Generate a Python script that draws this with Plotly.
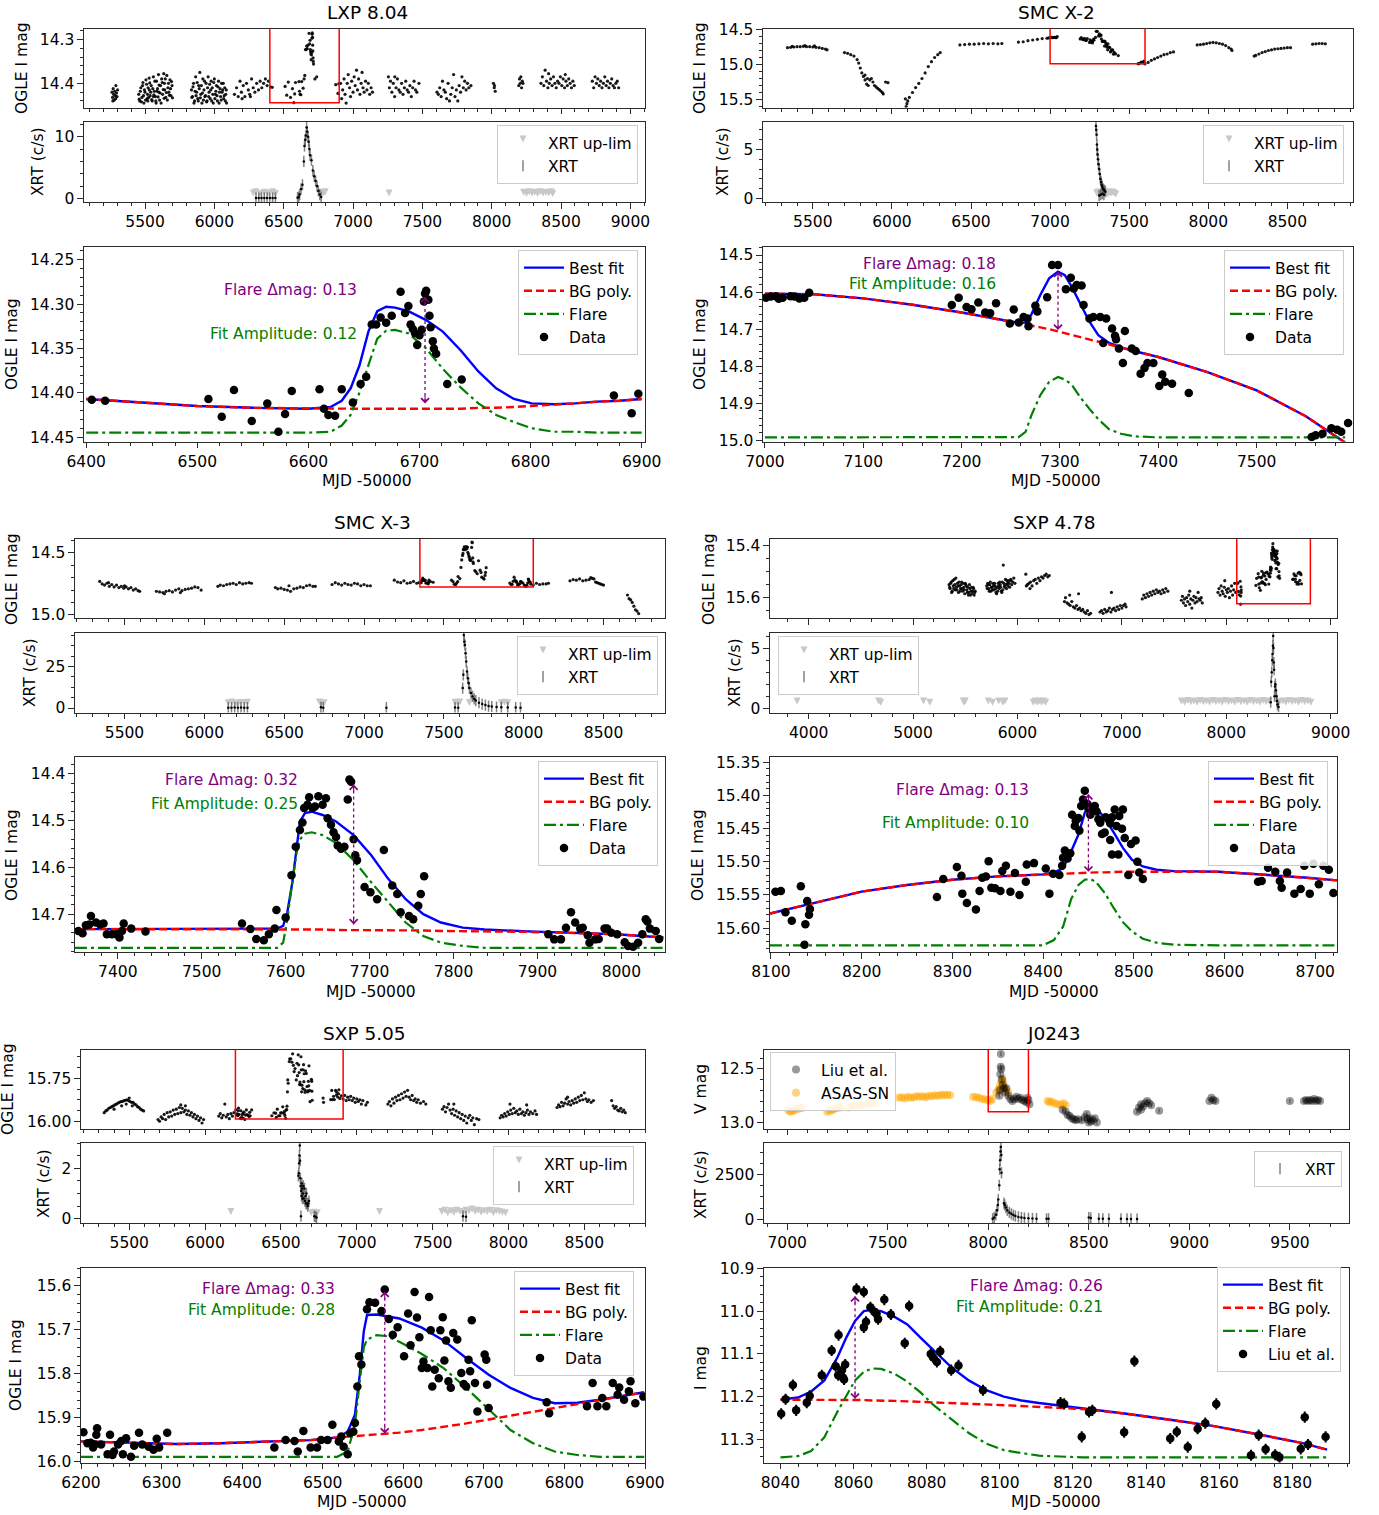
import plotly.graph_objects as go

# ============================ DATA ============================
# ---------- LXP 8.04 ----------
lxp_ogle_x = [
    5262, 5266, 5268, 5270, 5274, 5278, 5282, 5286, 5288, 5290, 5294, 5298, 5302,
    5455, 5462, 5470, 5478, 5485, 5492, 5500, 5507, 5515, 5520, 5522, 5530, 5531, 5537, 5545, 5552, 5560, 5561, 5567, 5575,
    5580, 5582, 5590, 5597, 5600, 5605, 5612, 5620, 5627, 5635, 5640, 5642, 5650, 5657, 5665, 5672, 5680, 5687, 5695,
    5835, 5842, 5850, 5857, 5865, 5872, 5880, 5887, 5895, 5902, 5910, 5917, 5925, 5932, 5940, 5947, 5955, 5962, 5970, 5977,
    5985, 5992, 6000, 6007, 6015, 6022, 6030, 6037, 6045, 6052, 6060, 6067, 6075, 6082, 6088,
    6145, 6160, 6172, 6185, 6195, 6200, 6208, 6220, 6232, 6245, 6255, 6260, 6268, 6280, 6292, 6305, 6318, 6330, 6342, 6355, 6368, 6380, 6390,
    6910, 6918, 6925, 6935, 6942, 6950, 6958, 6965, 6975, 6982, 6990, 7000, 7008, 7015, 7025, 7032, 7040, 7050, 7058, 7065, 7072, 7080, 7090, 7100, 7110, 7120, 7130, 7140,
    7255, 7262, 7270, 7280, 7290, 7300, 7301, 7310, 7320, 7330, 7340, 7350, 7360, 7370, 7380, 7390, 7400, 7410, 7420, 7430, 7440, 7450, 7460, 7475,
    7605, 7615, 7625, 7635, 7645, 7655, 7665, 7675, 7685, 7695, 7705, 7715, 7725, 7735, 7745, 7755, 7765, 7775, 7785, 7795, 7805, 7815, 7825, 7835, 7850,
    8012, 8018, 8020, 8025,
    8195, 8200, 8205, 8210, 8215, 8220, 8225,
    8355, 8365, 8375, 8385, 8395, 8405, 8410, 8415, 8425, 8435, 8445, 8455, 8465, 8475, 8485, 8495, 8505, 8515, 8525, 8530, 8535, 8545, 8555, 8565, 8575, 8585, 8595,
    8725, 8735, 8745, 8755, 8765, 8775, 8785, 8795, 8805, 8815, 8825, 8835, 8845, 8855, 8865, 8875, 8885, 8895, 8905, 8915,
    5458, 5466, 5474, 5482, 5489, 5496, 5504, 5511, 5518, 5526, 5534, 5541, 5548, 5556, 5564, 5571, 5578, 5586, 5594, 5601,
    5609, 5616, 5624, 5631, 5638, 5646, 5654, 5661, 5669, 5676, 5684, 5691, 5698,
    5838, 5846, 5853, 5861, 5868, 5876, 5884, 5891, 5899, 5906, 5914, 5921, 5929, 5936, 5944, 5951, 5959, 5966, 5974, 5981,
    5989, 5996, 6004, 6011, 6019, 6026, 6034, 6041, 6049, 6056, 6064, 6071, 6079, 6086,
]
lxp_ogle_y = [
    14.420, 14.432, 14.440, 14.412, 14.425, 14.438, 14.418, 14.428, 14.435, 14.405, 14.422, 14.430, 14.415,
    14.425, 14.440, 14.410, 14.432, 14.398, 14.445, 14.420, 14.392, 14.435, 14.440, 14.410, 14.388, 14.415, 14.428, 14.405, 14.440, 14.385, 14.430, 14.418, 14.430,
    14.445, 14.395, 14.412, 14.380, 14.420, 14.438, 14.405, 14.390, 14.425, 14.378, 14.400, 14.415, 14.432, 14.382, 14.410, 14.420, 14.392, 14.428, 14.405,
    14.415, 14.430, 14.400, 14.440, 14.385, 14.420, 14.435, 14.405, 14.375, 14.425, 14.445, 14.390, 14.415, 14.430, 14.400, 14.440, 14.385, 14.420, 14.435, 14.395,
    14.410, 14.445, 14.390, 14.425, 14.405, 14.440, 14.395, 14.420, 14.430, 14.400, 14.415, 14.435, 14.410, 14.425, 14.445,
    14.425, 14.410, 14.430, 14.395, 14.420, 14.435, 14.405, 14.430, 14.400, 14.415, 14.425, 14.430, 14.390, 14.410, 14.420, 14.400, 14.415, 14.395, 14.410, 14.400, 14.390, 14.405, 14.395,
    14.400, 14.435, 14.415, 14.390, 14.425, 14.445, 14.400, 14.380, 14.410, 14.430, 14.395, 14.420, 14.385, 14.405, 14.370, 14.415, 14.390, 14.425, 14.400, 14.375, 14.410, 14.420, 14.395, 14.415, 14.400, 14.425, 14.410, 14.420,
    14.385, 14.410, 14.395, 14.420, 14.400, 14.430, 14.385, 14.410, 14.390, 14.415, 14.420, 14.400, 14.425, 14.410, 14.395, 14.415, 14.420, 14.405, 14.430, 14.410, 14.395, 14.415, 14.420, 14.400,
    14.420, 14.425, 14.410, 14.430, 14.395, 14.415, 14.420, 14.435, 14.400, 14.440, 14.425, 14.410, 14.380, 14.430, 14.415, 14.440, 14.405, 14.420, 14.385, 14.410, 14.395, 14.415, 14.400, 14.410, 14.405,
    14.400, 14.410, 14.405, 14.418,
    14.405, 14.390, 14.400, 14.385, 14.410, 14.395, 14.400,
    14.400, 14.385, 14.405, 14.370, 14.395, 14.410, 14.378, 14.400, 14.390, 14.405, 14.385, 14.400, 14.410, 14.395, 14.400, 14.385, 14.405, 14.390, 14.410, 14.380, 14.395, 14.405, 14.390, 14.400, 14.410, 14.395, 14.405,
    14.395, 14.410, 14.385, 14.400, 14.390, 14.405, 14.395, 14.410, 14.400, 14.385, 14.405, 14.395, 14.410, 14.400, 14.390, 14.405, 14.410, 14.400, 14.395, 14.410,
    14.436, 14.418, 14.442, 14.405, 14.428, 14.415, 14.438, 14.402, 14.425, 14.432, 14.399, 14.420, 14.437, 14.412, 14.426, 14.395, 14.440, 14.418, 14.431, 14.404,
    14.422, 14.445, 14.398, 14.414, 14.434, 14.390, 14.421, 14.438, 14.400, 14.427, 14.412, 14.396, 14.433,
    14.432, 14.408, 14.445, 14.418, 14.428, 14.398, 14.440, 14.412, 14.433, 14.405, 14.422, 14.438, 14.395, 14.428, 14.442, 14.410, 14.430, 14.402, 14.415, 14.440,
    14.425, 14.398, 14.435, 14.418, 14.428, 14.408, 14.445, 14.412, 14.438, 14.420, 14.400, 14.428, 14.440, 14.415,
]
lxp_xrt_x = [6300, 6320, 6340, 6360, 6380, 6400, 6420, 6440, 6600, 6608, 6615, 6625, 6635, 6645, 6650, 6655, 6660, 6665,
             6670, 6675, 6680, 6685, 6690, 6700, 6710, 6720, 6730, 6740, 6750, 6760, 6770]
lxp_xrt_y = [0.05, 0.05, 0.04, 0.05, 0.06, 0.05, 0.04, 0.05, 0.1, 0.2, 0.6, 1.5, 2.2, 6.0, 8.5, 9.5, 10.2, 11.5,
             10.8, 10.0, 9.2, 8.0, 7.0, 6.2, 4.5, 3.6, 2.8, 2.0, 1.2, 0.6, 0.2]
lxp_ul_x = [6280, 6300, 6330, 6360, 6390, 6420, 6440, 6780, 6790, 6800, 7260, 8230, 8250, 8270, 8290, 8310, 8330, 8350,
            8370, 8390, 8410, 8430, 8440]
lxp_ul_y = [0.3, 0.5, 0.2, 0.4, 0.3, 0.5, 0.2, 0.4, 0.3, 0.5, 0.3, 0.4, 0.2, 0.5, 0.3, 0.4, 0.2, 0.5, 0.3, 0.4, 0.3, 0.5, 0.2]
lxp_data_x = [6405, 6417, 6510, 6522, 6533, 6549, 6563, 6573, 6579, 6585, 6610, 6614, 6618, 6624, 6630, 6640, 6647, 6652,
              6657, 6661, 6665, 6670, 6675, 6683, 6687, 6690, 6692, 6694, 6696, 6698, 6700, 6702, 6704, 6705, 6706, 6708,
              6709, 6710, 6712, 6713, 6715, 6725, 6738, 6875, 6891, 6897]
lxp_data_y = [14.408, 14.409, 14.407, 14.427, 14.397, 14.432, 14.412, 14.444, 14.424, 14.398, 14.396, 14.418, 14.425,
              14.426, 14.396, 14.411, 14.390, 14.382, 14.323, 14.323, 14.315, 14.321, 14.313, 14.286, 14.310, 14.302,
              14.323, 14.328, 14.333, 14.346, 14.335, 14.329, 14.297, 14.288, 14.285, 14.295, 14.313, 14.326, 14.342,
              14.350, 14.356, 14.390, 14.385, 14.403, 14.423, 14.401]
lxp_curve_x = [6400, 6450, 6500, 6550, 6600, 6620, 6630, 6638, 6646, 6654, 6662, 6670, 6678, 6690, 6706, 6721, 6737,
               6753, 6769, 6785, 6801, 6821, 6840, 6860, 6880, 6900]
lxp_best = [14.407, 14.411, 14.415, 14.417, 14.418, 14.416, 14.409, 14.395, 14.369, 14.331, 14.308, 14.303, 14.304,
            14.308, 14.318, 14.331, 14.352, 14.376, 14.395, 14.407, 14.412, 14.413, 14.412, 14.410, 14.409, 14.407]
lxp_bg = [14.407, 14.411, 14.415, 14.417, 14.418, 14.418, 14.418, 14.418, 14.418, 14.418, 14.418, 14.418, 14.418,
          14.418, 14.418, 14.418, 14.418, 14.417, 14.417, 14.416, 14.415, 14.414, 14.412, 14.410, 14.409, 14.407]
lxp_flare = [14.445, 14.445, 14.445, 14.445, 14.445, 14.444, 14.437, 14.425, 14.400, 14.369, 14.339, 14.330, 14.329,
             14.333, 14.350, 14.373, 14.394, 14.412, 14.425, 14.433, 14.440, 14.444, 14.444, 14.445, 14.445, 14.445]
lxp_arrow = [6705, 14.292, 14.412]

# ---------- SMC X-2 ----------
smc2_ogle_x = [
    5340, 5360, 5370, 5380, 5400, 5420, 5440, 5450, 5460, 5480, 5500, 5510, 5520, 5540, 5560, 5580, 5590,
    5700, 5720, 5740, 5760, 5780, 5790, 5800, 5810, 5820, 5830, 5830, 5840, 5845, 5850, 5860, 5870, 5880, 5890, 5900,
    5910, 5920, 5930, 5940, 5945, 5960, 5975,
    6085, 6090, 6095, 6100, 6110, 6130, 6150, 6170, 6190, 6210, 6230, 6250, 6270, 6290, 6305,
    6430, 6460, 6490, 6520, 6550, 6580, 6610, 6640, 6670, 6695,
    6800, 6830, 6860, 6890, 6920, 6950, 6980, 6990,
    7600, 7620, 7640, 7660, 7680, 7700, 7720, 7740, 7760, 7780,
    7930, 7950, 7970, 7990, 8010, 8030, 8050, 8070, 8090, 8110, 8130, 8145, 8150,
    8290, 8300, 8320, 8340, 8360, 8380, 8400, 8420, 8440, 8460, 8480, 8500, 8520,
    8660, 8680, 8700, 8720, 8740,
]
smc2_ogle_y = [
    14.760, 14.755, 14.740, 14.750, 14.745, 14.745, 14.740, 14.730, 14.745, 14.745, 14.750, 14.735, 14.755, 14.760, 14.770, 14.780, 14.790,
    14.830, 14.840, 14.860, 14.880, 14.930, 14.980, 15.050, 15.120, 15.170, 15.150, 15.220, 15.280, 15.200, 15.300, 15.220, 15.200, 15.250, 15.300, 15.320,
    15.340, 15.360, 15.380, 15.400, 15.420, 15.250, 15.260,
    15.490, 15.600, 15.560, 15.520, 15.470, 15.400, 15.330, 15.270, 15.200, 15.120, 15.030, 14.960, 14.900, 14.860, 14.830,
    14.720, 14.715, 14.710, 14.710, 14.705, 14.700, 14.705, 14.700, 14.705, 14.700,
    14.680, 14.675, 14.660, 14.650, 14.640, 14.630, 14.625, 14.620,
    14.990, 14.970, 14.940, 14.920, 14.900, 14.880, 14.860, 14.850, 14.830, 14.820,
    14.720, 14.715, 14.710, 14.700, 14.690, 14.685, 14.690, 14.700, 14.710, 14.730, 14.760, 14.780, 14.800,
    14.880, 14.870, 14.850, 14.830, 14.815, 14.800, 14.790, 14.780, 14.775, 14.770, 14.765, 14.760, 14.760,
    14.710, 14.705, 14.700, 14.700, 14.705,
]
smc2_xrt_x = [7290, 7292, 7294, 7296, 7298, 7300, 7303, 7306, 7310, 7314, 7318, 7322, 7326, 7330, 7335, 7340, 7345, 7350,
              7310, 7320, 7330, 7340]
smc2_xrt_y = [7.4, 7.0, 6.5, 5.5, 5.0, 4.5, 4.0, 3.5, 3.0, 2.5, 2.0, 1.7, 1.4, 1.2, 1.0, 0.9, 0.8, 0.7, 0.3, 0.4, 0.5, 0.4]
smc2_ul_x = [7295, 7305, 7315, 7325, 7335, 7345, 7355, 7365, 7375, 7385, 7395, 7405, 7415]
smc2_ul_y = [0.2, 0.3, 0.1, 0.3, 0.2, 0.3, 0.2, 0.1, 0.3, 0.2, 0.3, 0.2, 0.1]
smc2_data_x = [7001, 7006, 7011, 7014, 7018, 7026, 7030, 7035, 7040, 7045, 7190, 7197, 7205, 7210, 7217, 7224, 7229, 7235,
               7249, 7253, 7258, 7263, 7267, 7268, 7275, 7277, 7287, 7292, 7298, 7306, 7311, 7314, 7317, 7322, 7324, 7330,
               7334, 7341, 7344, 7347, 7353, 7356, 7357, 7360, 7364, 7366, 7373, 7377, 7382, 7386, 7389, 7395, 7401, 7404,
               7407, 7414, 7431, 7556, 7560, 7567, 7576, 7582, 7586, 7593]
smc2_data_y = [14.615, 14.612, 14.611, 14.618, 14.615, 14.611, 14.612, 14.617, 14.615, 14.602, 14.635, 14.615, 14.640,
               14.646, 14.628, 14.655, 14.657, 14.630, 14.685, 14.647, 14.682, 14.667, 14.671, 14.692, 14.637, 14.652,
               14.614, 14.527, 14.527, 14.592, 14.561, 14.590, 14.581, 14.582, 14.635, 14.671, 14.667, 14.667, 14.737,
               14.671, 14.698, 14.718, 14.727, 14.752, 14.791, 14.705, 14.752, 14.759, 14.820, 14.805, 14.791, 14.791,
               14.853, 14.822, 14.842, 14.847, 14.872, 14.991, 14.986, 14.982, 14.967, 14.971, 14.977, 14.953]
smc2_curve_x = [7000, 7050, 7100, 7150, 7200, 7250, 7258, 7265, 7271, 7280, 7289, 7298, 7305, 7312, 7321, 7330, 7339,
                7350, 7362, 7375, 7400, 7450, 7500, 7550, 7590]
smc2_best = [14.604, 14.606, 14.617, 14.634, 14.655, 14.679, 14.683, 14.682, 14.660, 14.608, 14.563, 14.545, 14.554,
             14.586, 14.635, 14.680, 14.716, 14.737, 14.749, 14.759, 14.775, 14.816, 14.865, 14.935, 15.006]
smc2_bg = [14.604, 14.606, 14.617, 14.634, 14.655, 14.679, 14.683, 14.687, 14.690, 14.695, 14.700, 14.706, 14.711,
           14.716, 14.722, 14.728, 14.734, 14.742, 14.750, 14.759, 14.775, 14.816, 14.865, 14.935, 15.006]
smc2_flare = [14.992, 14.992, 14.992, 14.992, 14.992, 14.992, 14.991, 14.977, 14.932, 14.878, 14.842, 14.829, 14.836,
              14.850, 14.885, 14.915, 14.943, 14.970, 14.982, 14.989, 14.992, 14.992, 14.992, 14.992, 14.992]
smc2_arrow = [7298, 14.545, 14.702]

# ---------- SMC X-3 ----------
smc3_ogle_x = [
    5345, 5360, 5375, 5390, 5400, 5405, 5420, 5435, 5450, 5465, 5480, 5495, 5500, 5510, 5525, 5540, 5555, 5570, 5585, 5595,
    5700, 5720, 5740, 5750, 5760, 5780, 5800, 5820, 5840, 5850, 5860, 5880, 5900, 5920, 5940, 5960, 5980,
    6085, 6100, 6120, 6140, 6160, 6180, 6200, 6220, 6240, 6260, 6280, 6295,
    6445, 6460, 6480, 6500, 6520, 6530, 6540, 6560, 6580, 6600, 6620, 6640, 6660, 6680, 6695,
    6800, 6820, 6840, 6860, 6880, 6900, 6920, 6940, 6960, 6980, 7000, 7020, 7040,
    7190, 7210, 7230, 7250, 7270, 7290, 7310, 7330, 7345,
    8060, 8080, 8100, 8120, 8140, 8155,
    8290, 8310, 8330, 8350, 8370, 8390, 8410, 8420, 8430, 8440, 8450, 8460, 8470, 8480, 8490, 8500,
    8650, 8660, 8670, 8680, 8690, 8700, 8710, 8720,
]
smc3_ogle_y = [
    14.730, 14.750, 14.760, 14.745, 14.740, 14.770, 14.755, 14.775, 14.760, 14.780, 14.770, 14.785, 14.765, 14.775, 14.790, 14.780, 14.800, 14.790, 14.805, 14.810,
    14.810, 14.815, 14.820, 14.830, 14.810, 14.805, 14.815, 14.800, 14.790, 14.820, 14.805, 14.795, 14.790, 14.785, 14.775, 14.780, 14.800,
    14.770, 14.760, 14.765, 14.755, 14.750, 14.745, 14.755, 14.740, 14.750, 14.745, 14.740, 14.745,
    14.780, 14.790, 14.785, 14.795, 14.800, 14.765, 14.810, 14.790, 14.785, 14.775, 14.780, 14.765, 14.760, 14.770, 14.770,
    14.755, 14.740, 14.750, 14.760, 14.745, 14.755, 14.760, 14.745, 14.750, 14.765, 14.755, 14.765, 14.765,
    14.720, 14.735, 14.740, 14.725, 14.745, 14.740, 14.730, 14.745, 14.740,
    14.760, 14.745, 14.755, 14.750, 14.750, 14.745,
    14.725, 14.715, 14.720, 14.710, 14.725, 14.720, 14.715, 14.700, 14.705, 14.710, 14.735, 14.740, 14.745, 14.750, 14.755, 14.760,
    14.840, 14.870, 14.880, 14.900, 14.930, 14.960, 14.970, 14.990,
]
smc3_xrt_x = [6150, 6170, 6190, 6210, 6230, 6250, 6270, 6730, 6745, 7140, 7570, 7590, 7618, 7622, 7625, 7628, 7632, 7636,
              7640, 7645, 7650, 7655, 7660, 7670, 7680, 7690, 7700, 7720, 7740, 7760, 7780, 7800, 7830, 7860, 7900, 7950, 7980]
smc3_xrt_y = [0.1, 0.2, 0.3, 0.2, 0.3, 0.1, 0.2, 0.4, 0.2, 0.2, 0.3, 0.2, 12, 20, 44, 40, 38, 33, 28, 22, 18, 15, 12, 9,
              7, 5.5, 4.5, 3.2, 2.4, 1.8, 1.2, 0.9, 0.6, 0.4, 0.3, 0.3, 0.2]
smc3_ul_x = [6150, 6175, 6200, 6225, 6250, 6270, 6720, 6735, 6750, 7570, 7585, 7600, 7660, 7860, 7880, 7900]
smc3_ul_y = [1.0, 1.5, 0.8, 1.2, 1.0, 1.4, 1.5, 0.8, 1.1, 1.3, 1.0, 1.5, 1.2, 1.0, 1.4, 1.1]
smc3_data_x = [7353, 7358, 7362, 7366, 7368, 7374, 7379, 7383, 7387, 7393, 7398, 7402, 7405, 7407, 7416, 7433, 7548, 7558,
               7565, 7574, 7580, 7587, 7589, 7600, 7607, 7612, 7617, 7620, 7622, 7626, 7628, 7632, 7635, 7639, 7644, 7648,
               7650, 7654, 7657, 7660, 7662, 7666, 7670, 7674, 7676, 7678, 7681, 7683, 7685, 7694, 7701, 7709, 7717, 7727,
               7733, 7737, 7747, 7752, 7758, 7761, 7765, 7913, 7920, 7928, 7934, 7940, 7945, 7951, 7954, 7960, 7962, 7969,
               7973, 7980, 7983, 7988, 7995, 8004, 8008, 8014, 8020, 8025, 8029, 8031, 8034, 8041, 8045]
smc3_data_y = [14.736, 14.741, 14.724, 14.722, 14.704, 14.718, 14.722, 14.720, 14.743, 14.743, 14.743, 14.750, 14.736,
               14.720, 14.731, 14.737, 14.720, 14.732, 14.753, 14.756, 14.743, 14.731, 14.691, 14.707, 14.617, 14.556,
               14.520, 14.504, 14.473, 14.466, 14.450, 14.473, 14.470, 14.448, 14.466, 14.452, 14.495, 14.509, 14.525,
               14.535, 14.553, 14.560, 14.556, 14.455, 14.412, 14.417, 14.540, 14.574, 14.585, 14.642, 14.653, 14.668,
               14.563, 14.639, 14.657, 14.696, 14.704, 14.711, 14.682, 14.657, 14.619, 14.743, 14.754, 14.754, 14.729,
               14.696, 14.718, 14.731, 14.729, 14.745, 14.761, 14.754, 14.753, 14.731, 14.731, 14.740, 14.743, 14.760,
               14.768, 14.770, 14.761, 14.743, 14.711, 14.716, 14.731, 14.736, 14.753]
smc3_curve_x = [7349, 7400, 7500, 7590, 7597, 7602, 7608, 7613, 7617, 7623, 7631, 7644, 7660, 7681, 7702, 7722, 7743,
                7764, 7785, 7811, 7837, 7889, 7941, 7994, 8050]
smc3_best = [14.732, 14.732, 14.732, 14.731, 14.725, 14.696, 14.632, 14.553, 14.502, 14.484, 14.481, 14.488, 14.502,
             14.531, 14.574, 14.624, 14.668, 14.700, 14.718, 14.729, 14.733, 14.737, 14.740, 14.743, 14.750]
smc3_bg = [14.732, 14.732, 14.732, 14.733, 14.733, 14.733, 14.733, 14.733, 14.733, 14.733, 14.733, 14.733, 14.734,
           14.734, 14.734, 14.735, 14.735, 14.735, 14.736, 14.736, 14.737, 14.738, 14.740, 14.743, 14.750]
smc3_flare = [14.772, 14.772, 14.772, 14.772, 14.761, 14.711, 14.630, 14.570, 14.540, 14.528, 14.525, 14.531, 14.548,
              14.585, 14.632, 14.675, 14.718, 14.747, 14.761, 14.768, 14.772, 14.772, 14.772, 14.772, 14.772]
smc3_arrow = [7681, 14.423, 14.722]

# ---------- SXP 4.78 ----------
sxp478_ogle_x = [
    5345, 5355, 5365, 5375, 5380, 5385, 5395, 5405, 5410, 5415, 5425, 5435, 5445, 5455, 5465, 5475, 5485, 5495, 5500, 5505,
    5515, 5525, 5530, 5535, 5545, 5555, 5565, 5575, 5585, 5595,
    5705, 5715, 5725, 5735, 5745, 5755, 5765, 5775, 5785, 5795, 5800, 5805, 5815, 5825, 5835, 5845, 5850, 5855, 5864, 5875,
    5885, 5895, 5905, 5915, 5925, 5935, 5945, 5955, 5965, 5975,
    6080, 6085, 6095, 6110, 6120, 6125, 6140, 6155, 6170, 6185, 6200, 6215, 6230, 6245, 6260, 6275, 6290, 6305,
    6450, 6460, 6475, 6490, 6500, 6505, 6520, 6535, 6550, 6565, 6580, 6585, 6595, 6610, 6625, 6640, 6655, 6670, 6685, 6700,
    6790, 6805, 6820, 6835, 6850, 6865, 6880, 6895, 6900, 6910, 6925, 6940, 6955, 6970, 6985, 7000, 7015, 7030, 7040,
    7195, 7210, 7225, 7240, 7255, 7270, 7285, 7300, 7315, 7330, 7345, 7360, 7375, 7390, 7405, 7420, 7440,
    7570, 7580, 7590, 7600, 7610, 7620, 7630, 7640, 7650, 7650, 7660, 7670, 7680, 7690, 7700, 7710, 7720, 7730, 7740, 7750,
    7760, 7770,
    7920, 7930, 7940, 7950, 7960, 7970, 7980, 7985, 7990, 8000, 8010, 8020, 8030, 8040, 8050, 8060, 8070, 8080, 8090,
    5350, 5360, 5370, 5390, 5400, 5420, 5430, 5440, 5450, 5460, 5470, 5480, 5490, 5510, 5520, 5540, 5550, 5560, 5570, 5580,
    5590,
    5710, 5720, 5730, 5740, 5750, 5760, 5770, 5780, 5790, 5810, 5820, 5830, 5840, 5860, 5870, 5880, 5890, 5900, 5910, 5920,
    5940,
]
sxp478_ogle_y = [
    15.550, 15.565, 15.540, 15.575, 15.535, 15.555, 15.530, 15.570, 15.525, 15.560, 15.545, 15.580, 15.555, 15.565, 15.540, 15.575, 15.560, 15.585, 15.545, 15.550,
    15.570, 15.560, 15.590, 15.580, 15.565, 15.575, 15.585, 15.560, 15.590, 15.575,
    15.555, 15.545, 15.565, 15.550, 15.575, 15.560, 15.545, 15.570, 15.555, 15.580, 15.585, 15.560, 15.545, 15.565, 15.550, 15.575, 15.580, 15.540, 15.475, 15.555,
    15.530, 15.565, 15.545, 15.535, 15.560, 15.530, 15.550, 15.540, 15.525, 15.545,
    15.510, 15.555, 15.550, 15.545, 15.565, 15.540, 15.555, 15.535, 15.530, 15.545, 15.525, 15.535, 15.520, 15.525, 15.515, 15.510, 15.520, 15.515,
    15.615, 15.600, 15.620, 15.625, 15.590, 15.630, 15.615, 15.635, 15.640, 15.630, 15.645, 15.585, 15.640, 15.650, 15.645, 15.655, 15.660, 15.650, 15.665, 15.660,
    15.655, 15.650, 15.660, 15.645, 15.655, 15.650, 15.640, 15.655, 15.580, 15.645, 15.640, 15.650, 15.635, 15.645, 15.630, 15.640, 15.630, 15.625, 15.635,
    15.605, 15.590, 15.600, 15.585, 15.595, 15.580, 15.590, 15.575, 15.585, 15.570, 15.580, 15.575, 15.585, 15.570, 15.580, 15.565, 15.575,
    15.610, 15.595, 15.620, 15.605, 15.630, 15.600, 15.615, 15.590, 15.625, 15.575, 15.605, 15.640, 15.610, 15.595, 15.620, 15.600, 15.615, 15.580, 15.605, 15.610,
    15.600, 15.620,
    15.580, 15.565, 15.590, 15.555, 15.575, 15.585, 15.560, 15.535, 15.595, 15.570, 15.580, 15.565, 15.600, 15.575, 15.555, 15.590, 15.570, 15.545, 15.580,
    15.560, 15.545, 15.580, 15.565, 15.550, 15.570, 15.555, 15.540, 15.575, 15.550, 15.565, 15.545, 15.570, 15.555, 15.580, 15.550, 15.590, 15.560, 15.575, 15.565,
    15.580,
    15.565, 15.550, 15.575, 15.540, 15.560, 15.570, 15.555, 15.545, 15.565, 15.575, 15.555, 15.540, 15.560, 15.570, 15.545, 15.560, 15.550, 15.535, 15.555, 15.545,
    15.535,
]
sxp478_xrt_x = [8425, 8430, 8435, 8440, 8443, 8446, 8449, 8452, 8455, 8458, 8462, 8466, 8470, 8475, 8480, 8485, 8490, 8500]
sxp478_xrt_y = [0.5, 2.2, 3.0, 4.0, 4.5, 5.2, 6.0, 5.0, 3.8, 3.2, 1.0, 1.8, 2.0, 1.5, 1.0, 0.6, 0.3, 0.1]
sxp478_ul_x = [3890, 4670, 4690, 5100, 5160, 5480, 5490, 5500, 5720, 5760, 5820, 5860, 5880,
               6150, 6170, 6190, 6210, 6230, 6250, 6270,
               7570, 7600, 7630, 7660, 7690, 7720, 7750, 7780, 7810, 7840, 7870, 7900, 7930, 7960, 7990,
               8020, 8050, 8080, 8110, 8140, 8170, 8200, 8230, 8260, 8290, 8320, 8350, 8380, 8410,
               8510, 8540, 8570, 8600, 8630, 8660, 8690, 8720, 8750, 8780, 8810]
sxp478_ul_y = [0.3, 0.3, 0.2, 0.3, 0.2, 0.3, 0.2, 0.3, 0.3, 0.2, 0.3, 0.2, 0.3,
               0.2, 0.3, 0.2, 0.3, 0.2, 0.3, 0.2,
               0.3, 0.2, 0.35, 0.25, 0.3, 0.2, 0.35, 0.25, 0.3, 0.2, 0.35, 0.25, 0.3, 0.2, 0.35,
               0.25, 0.3, 0.2, 0.35, 0.25, 0.3, 0.2, 0.35, 0.25, 0.3, 0.2, 0.35, 0.25, 0.3,
               0.25, 0.3, 0.2, 0.35, 0.25, 0.3, 0.2, 0.35, 0.25, 0.3, 0.2]
sxp478_data_x = [8105, 8111, 8116, 8123, 8133, 8137, 8138, 8140, 8142, 8143, 8283, 8290, 8305, 8310, 8311, 8316, 8326,
                 8330, 8333, 8337, 8340, 8343, 8347, 8353, 8355, 8359, 8364, 8369, 8374, 8381, 8382, 8390, 8403, 8407,
                 8411, 8418, 8421, 8422, 8424, 8426, 8427, 8430, 8432, 8435, 8436, 8439, 8440, 8442, 8444, 8446, 8449,
                 8450, 8452, 8455, 8457, 8459, 8461, 8463, 8465, 8468, 8469, 8472, 8474, 8476, 8479, 8481, 8484, 8487,
                 8488, 8474, 8476, 8483, 8490, 8494, 8497, 8502, 8504, 8506, 8510, 8637, 8641, 8648, 8656, 8661, 8663,
                 8669, 8677, 8684, 8688, 8694, 8698, 8704, 8709, 8715, 8720]
sxp478_data_y = [15.545, 15.544, 15.576, 15.589, 15.537, 15.625, 15.594, 15.559, 15.580, 15.571, 15.553, 15.526, 15.508,
                 15.521, 15.548, 15.562, 15.572, 15.544, 15.524, 15.522, 15.499, 15.539, 15.540, 15.544, 15.514, 15.506,
                 15.545, 15.517, 15.550, 15.530, 15.504, 15.502, 15.510, 15.548, 15.518, 15.520, 15.506, 15.494, 15.483,
                 15.487, 15.495, 15.487, 15.429, 15.446, 15.438, 15.434, 15.453, 15.416, 15.406, 15.393, 15.413, 15.420,
                 15.429, 15.418, 15.416, 15.424, 15.436, 15.441, 15.458, 15.456, 15.433, 15.436, 15.442, 15.433, 15.421,
                 15.446, 15.431, 15.450, 15.421, 15.467, 15.489, 15.489, 15.464, 15.520, 15.473, 15.468, 15.500, 15.516,
                 15.526, 15.530, 15.529, 15.509, 15.515, 15.529, 15.539, 15.516, 15.548, 15.541, 15.506, 15.548, 15.503,
                 15.534, 15.506, 15.512, 15.547]
sxp478_curve_x = [8099, 8150, 8200, 8250, 8300, 8350, 8400, 8412, 8422, 8431, 8439, 8446, 8452, 8458, 8468, 8478, 8488,
                  8498, 8510, 8525, 8544, 8593, 8642, 8692, 8724]
sxp478_best = [15.578, 15.561, 15.545, 15.535, 15.527, 15.522, 15.519, 15.516, 15.510, 15.484, 15.459, 15.426, 15.414,
               15.418, 15.434, 15.456, 15.479, 15.497, 15.507, 15.512, 15.514, 15.515, 15.519, 15.524, 15.528]
sxp478_bg = [15.578, 15.561, 15.545, 15.535, 15.527, 15.522, 15.519, 15.518, 15.518, 15.517, 15.517, 15.517, 15.516,
             15.516, 15.516, 15.515, 15.515, 15.515, 15.515, 15.514, 15.514, 15.515, 15.519, 15.524, 15.528]
sxp478_flare = [15.626, 15.626, 15.626, 15.626, 15.626, 15.626, 15.626, 15.618, 15.598, 15.556, 15.535, 15.527, 15.526,
                15.530, 15.547, 15.570, 15.591, 15.605, 15.616, 15.622, 15.625, 15.626, 15.626, 15.626, 15.626]
sxp478_arrow = [8450, 15.398, 15.515]

# ---------- SXP 5.05 ----------
sxp505_ogle_x = [
    5335, 5345, 5355, 5365, 5375, 5385, 5395, 5400, 5405, 5415, 5425, 5435, 5445, 5450, 5455, 5465, 5475, 5480, 5485, 5495,
    5500, 5505, 5515, 5520, 5525, 5535, 5545, 5555, 5565, 5575, 5585, 5595,
    5690, 5700, 5710, 5720, 5730, 5740, 5750, 5760, 5770, 5780, 5790, 5800, 5810, 5820, 5830, 5840, 5840, 5850, 5860, 5870,
    5870, 5880, 5890, 5900, 5910, 5920, 5930, 5940, 5950, 5960, 5970, 5980, 5990,
    6090, 6100, 6110, 6120, 6130, 6140, 6150, 6160, 6170, 6180, 6190,
    6910, 6920, 6930, 6940, 6950, 6960, 6970, 6980, 6990, 7000, 7010, 7020, 7030, 7040, 7060, 7070,
    7205, 7215, 7225, 7235, 7245, 7255, 7265, 7275, 7285, 7295, 7305, 7315, 7325, 7335, 7345, 7355, 7365, 7375, 7385, 7395,
    7405, 7420, 7440, 7455,
    7565, 7575, 7585, 7595, 7605, 7615, 7625, 7635, 7640, 7645, 7655, 7665, 7675, 7685, 7695, 7705, 7715, 7725, 7735, 7745,
    7755, 7765, 7775, 7790, 7805,
    7945, 7955, 7965, 7975, 7985, 7995, 8005, 8010, 8015, 8025, 8035, 8045, 8055, 8065, 8075, 8085, 8095, 8105, 8115, 8120,
    8125, 8135, 8145, 8160, 8175, 8185,
    8320, 8330, 8340, 8350, 8360, 8370, 8380, 8390, 8390, 8400, 8410, 8420, 8430, 8440, 8450, 8460, 8470, 8480, 8490, 8500,
    8510, 8520, 8530, 8545, 8560,
    8680, 8690, 8700, 8710, 8720, 8730, 8740, 8750, 8760, 8770,
]
sxp505_ogle_y = [
    15.950, 15.940, 15.935, 15.925, 15.920, 15.915, 15.910, 15.930, 15.905, 15.900, 15.895, 15.890, 15.885, 15.910, 15.885, 15.880, 15.878, 15.900, 15.875, 15.880,
    15.865, 15.885, 15.890, 15.910, 15.890, 15.900, 15.905, 15.915, 15.920, 15.930, 15.935, 15.940,
    15.990, 16.000, 15.975, 15.985, 15.960, 15.990, 15.950, 15.975, 15.945, 15.970, 15.935, 15.960, 15.930, 15.955, 15.920, 15.950, 15.905, 15.925, 15.945, 15.935,
    15.910, 15.960, 15.940, 15.965, 15.950, 15.975, 15.960, 15.985, 15.970, 15.995, 15.980, 16.010, 15.990,
    15.970, 15.955, 15.980, 15.965, 15.900, 15.975, 15.960, 15.985, 15.955, 15.970, 15.950,
    15.870, 15.850, 15.880, 15.860, 15.875, 15.855, 15.880, 15.865, 15.890, 15.870, 15.885, 15.875, 15.900, 15.880, 15.905, 15.890,
    15.900, 15.885, 15.910, 15.870, 15.895, 15.860, 15.880, 15.850, 15.875, 15.840, 15.865, 15.830, 15.855, 15.820, 15.860, 15.875, 15.850, 15.880, 15.870, 15.890,
    15.875, 15.895, 15.885, 15.900,
    15.930, 15.915, 15.945, 15.920, 15.900, 15.935, 15.955, 15.930, 15.900, 15.965, 15.940, 15.975, 15.950, 15.985, 15.960, 15.995, 15.970, 16.010, 15.980, 15.965,
    15.995, 15.980, 16.020, 15.985, 15.990,
    15.980, 15.965, 15.975, 15.955, 15.970, 15.945, 15.960, 15.900, 15.935, 15.955, 15.925, 15.950, 15.940, 15.960, 15.930, 15.955, 15.945, 15.965, 15.950, 15.905,
    15.935, 15.960, 15.945, 15.955, 15.940, 15.960,
    15.920, 15.905, 15.915, 15.890, 15.910, 15.895, 15.870, 15.900, 15.860, 15.885, 15.905, 15.880, 15.895, 15.870, 15.890, 15.860, 15.880, 15.850, 15.875, 15.835,
    15.870, 15.885, 15.875, 15.890, 15.880,
    15.880, 15.910, 15.925, 15.915, 15.935, 15.940, 15.925, 15.945, 15.935, 15.950,
]
sxp505_xrt_x = [6615, 6618, 6620, 6622, 6624, 6626, 6628, 6630, 6632, 6634, 6636, 6638, 6640, 6642, 6645, 6648, 6650, 6655,
                6658, 6662, 6665, 6668, 6672, 6676, 6680, 6685, 6720, 6728, 6735, 7700, 7720]
sxp505_xrt_y = [1.7, 1.8, 2.2, 2.5, 2.9, 2.3, 1.6, 1.3, 0.1, 1.1, 0.9, 1.4, 1.2, 0.8, 1.0, 1.3, 0.8, 1.2, 0.7, 0.9, 0.6,
                1.0, 0.6, 0.5, 0.6, 0.7, 0.1, 0.08, 0.05, 0.1, 0.08]
sxp505_ul_x = [6170, 6700, 6720, 6740, 7150, 7560, 7580, 7600, 7620, 7640, 7660, 7680, 7700, 7720, 7740, 7760, 7780, 7800,
               7820, 7840, 7860, 7880, 7900, 7920, 7940, 7960, 7980]
sxp505_ul_y = [0.15, 0.1, 0.12, 0.1, 0.15, 0.15, 0.2, 0.1, 0.18, 0.12, 0.2, 0.15, 0.1, 0.2, 0.18, 0.25, 0.15, 0.2, 0.12,
               0.18, 0.15, 0.2, 0.1, 0.18, 0.15, 0.12, 0.1]
sxp505_data_x = [6203, 6208, 6212, 6215, 6217, 6219, 6220, 6225, 6233, 6236, 6239, 6241, 6246, 6250, 6252, 6256, 6262,
                 6266, 6272, 6276, 6284, 6290, 6294, 6297, 6307, 6440, 6454, 6465, 6469, 6476, 6485, 6493, 6498, 6506,
                 6512, 6520, 6523, 6526, 6531, 6534, 6538, 6540, 6543, 6545, 6548, 6555, 6558, 6565, 6573, 6577, 6582,
                 6587, 6593, 6601, 6606, 6609, 6614, 6617, 6620, 6623, 6625, 6630, 6632, 6634, 6636, 6639, 6644, 6646,
                 6649, 6651, 6653, 6656, 6659, 6662, 6667, 6672, 6675, 6678, 6681, 6683, 6685, 6689, 6692, 6701, 6703,
                 6704, 6706, 6778, 6781, 6828, 6835, 6841, 6847, 6852, 6860, 6866, 6868, 6874, 6880, 6882, 6888, 6898]
sxp505_data_y = [15.933, 15.958, 15.957, 15.968, 15.961, 15.939, 15.924, 15.961, 15.983, 15.939, 15.985, 15.977, 15.961,
                 15.953, 15.983, 15.947, 15.989, 15.964, 15.934, 15.961, 15.966, 15.973, 15.948, 15.968, 15.934, 15.968,
                 15.951, 15.953, 15.977, 15.930, 15.968, 15.968, 15.951, 15.951, 15.916, 15.954, 15.943, 15.966, 15.983,
                 15.935, 15.932, 15.912, 15.829, 15.760, 15.779, 15.653, 15.637, 15.638, 15.657, 15.608, 15.675, 15.711,
                 15.694, 15.760, 15.663, 15.735, 15.614, 15.672, 15.717, 15.787, 15.772, 15.787, 15.625, 15.701, 15.829,
                 15.791, 15.810, 15.701, 15.671, 15.770, 15.724, 15.817, 15.832, 15.707, 15.722, 15.798, 15.823, 15.829,
                 15.768, 15.794, 15.678, 15.821, 15.886, 15.756, 15.768, 15.825, 15.878, 15.865, 15.890, 15.874, 15.821,
                 15.874, 15.855, 15.874, 15.821, 15.848, 15.831, 15.859, 15.840, 15.817, 15.867, 15.852]
sxp505_curve_x = [6200, 6264, 6319, 6374, 6429, 6485, 6518, 6531, 6540, 6546, 6551, 6555, 6567, 6578, 6595, 6623, 6650,
                  6678, 6706, 6733, 6761, 6788, 6816, 6844, 6871, 6899]
sxp505_best = [15.954, 15.958, 15.960, 15.958, 15.954, 15.951, 15.945, 15.932, 15.893, 15.802, 15.703, 15.666, 15.665,
               15.669, 15.674, 15.695, 15.724, 15.764, 15.802, 15.832, 15.855, 15.867, 15.866, 15.859, 15.851, 15.842]
sxp505_bg = [15.954, 15.958, 15.960, 15.958, 15.954, 15.951, 15.945, 15.943, 15.942, 15.941, 15.940, 15.940, 15.939,
             15.937, 15.934, 15.928, 15.921, 15.913, 15.904, 15.895, 15.886, 15.878, 15.869, 15.860, 15.851, 15.842]
sxp505_flare = [15.989, 15.989, 15.989, 15.989, 15.989, 15.989, 15.989, 15.977, 15.916, 15.817, 15.740, 15.722, 15.712,
                15.714, 15.727, 15.755, 15.787, 15.832, 15.882, 15.928, 15.958, 15.977, 15.985, 15.989, 15.989, 15.989]
sxp505_arrow = [6577, 15.613, 15.936]

# ---------- J0243 ----------
j0243_asas_x = [7005, 7015, 7025, 7035, 7045, 7055, 7065, 7075,
                7200, 7210, 7220, 7230, 7240, 7250, 7260, 7270,
                7305, 7320, 7335, 7350, 7365, 7380, 7395, 7410, 7425, 7440,
                7555, 7570, 7585, 7600, 7615, 7630, 7645, 7660, 7675, 7690, 7705, 7720, 7735, 7750, 7765, 7780, 7795, 7810,
                7925, 7940, 7955, 7970, 7985, 8000, 8010, 8020,
                8040, 8050, 8055, 8060, 8065, 8070, 8075, 8080, 8090, 8100,
                8295, 8305, 8315, 8330, 8345, 8360, 8375, 8385]
j0243_asas_y = [12.880, 12.900, 12.895, 12.885, 12.870, 12.875, 12.860, 12.865,
                12.900, 12.880, 12.890, 12.875, 12.870, 12.865, 12.855, 12.860,
                12.860, 12.850, 12.845, 12.840, 12.840, 12.835, 12.830, 12.825, 12.820, 12.820,
                12.770, 12.765, 12.775, 12.760, 12.770, 12.765, 12.755, 12.760, 12.755, 12.765, 12.750, 12.755, 12.745, 12.750, 12.740, 12.745, 12.740, 12.745,
                12.760, 12.765, 12.770, 12.780, 12.785, 12.790, 12.800, 12.780,
                12.720, 12.700, 12.680, 12.650, 12.620, 12.590, 12.630, 12.670, 12.700, 12.720,
                12.800, 12.810, 12.805, 12.820, 12.830, 12.835, 12.820, 12.840]
j0243_liu_x = [8055, 8058, 8060, 8062, 8063, 8065, 8068, 8072, 8078, 8085, 8090, 8100, 8110, 8120, 8130, 8140, 8150, 8160,
               8170, 8180, 8190, 8195, 8200, 8205,
               8370, 8385, 8395, 8405, 8415, 8425, 8435, 8445, 8465, 8480, 8490, 8495, 8500, 8505, 8510, 8520, 8530, 8540,
               8740, 8750, 8760, 8760, 8770, 8780, 8790, 8800, 8810, 8850,
               9100, 9110, 9120, 9130,
               9500,
               9570, 9580, 9590, 9600, 9610, 9620, 9630, 9640, 9650]
j0243_liu_y = [12.750, 12.700, 12.550, 12.480, 12.360, 12.500, 12.600, 12.650, 12.680, 12.720, 12.680, 12.750, 12.780,
               12.800, 12.780, 12.760, 12.780, 12.770, 12.790, 12.800, 12.810, 12.770, 12.790, 12.830,
               12.880, 12.900, 12.930, 12.940, 12.960, 12.970, 12.980, 12.970, 12.980, 12.950, 12.920, 12.970, 13.000,
               12.960, 12.990, 12.980, 12.960, 13.000,
               12.900, 12.860, 12.830, 12.880, 12.850, 12.820, 12.800, 12.820, 12.840, 12.890,
               12.800, 12.770, 12.790, 12.800,
               12.800,
               12.800, 12.790, 12.800, 12.790, 12.800, 12.780, 12.800, 12.790, 12.800]
j0243_xrt_x = [8022, 8030, 8038, 8044, 8048, 8050, 8055, 8057, 8059, 8061, 8063, 8065, 8066, 8078, 8082, 8088, 8095, 8105,
               8115, 8125, 8135, 8150, 8165, 8180, 8200, 8220, 8240, 8290, 8300, 8500, 8510, 8550, 8570, 8600, 8660,
               8690, 8710, 8740]
j0243_xrt_y = [30, 100, 250, 500, 800, 1100, 1900, 2800, 3300, 3800, 4050, 3600, 2600, 900, 800, 650, 500, 380, 300, 230,
               180, 130, 90, 70, 50, 40, 30, 20, 25, 90, 70, 30, 25, 20, 20, 15, 15, 12]
j0243_data_x = [8040.2, 8041.4, 8043.4, 8044.3, 8047.2, 8048.0, 8051.3, 8054.0, 8055.1, 8055.9, 8055.8, 8056.8, 8057.1,
                8057.7, 8057.4, 8060.8, 8062.8, 8062.8, 8063.4, 8064.6, 8065.7, 8066.3, 8066.7, 8068.4, 8070.2, 8074.0,
                8075.2, 8081.1, 8081.7, 8082.8, 8083.7, 8086.7, 8088.7, 8095.4, 8116.6, 8117.6, 8122.4, 8124.4, 8125.3,
                8134.0, 8136.8, 8146.6, 8148.4, 8151.4, 8154.1, 8156.2, 8159.2, 8168.7, 8170.8, 8172.7, 8175.3, 8176.5,
                8182.3, 8183.4, 8184.3, 8189.1]
j0243_data_y = [11.240, 11.206, 11.173, 11.232, 11.214, 11.198, 11.150, 11.092, 11.129, 11.056, 11.150, 11.138, 11.155,
                11.125, 11.160, 10.948, 10.955, 11.038, 11.025, 10.991, 11.002, 11.006, 11.019, 10.973, 11.008, 11.075,
                10.988, 11.100, 11.108, 11.119, 11.094, 11.138, 11.127, 11.185, 11.214, 11.217, 11.294, 11.236, 11.232,
                11.283, 11.117, 11.298, 11.282, 11.318, 11.275, 11.262, 11.217, 11.337, 11.290, 11.323, 11.336, 11.342,
                11.322, 11.248, 11.312, 11.294]
j0243_curve_x = [8040, 8044.8, 8048.4, 8052, 8055.6, 8058, 8060.4, 8062.8, 8065.1, 8067.5, 8071.1, 8074.7, 8078.3,
                 8081.9, 8086.7, 8091.5, 8096.3, 8101.1, 8105.9, 8110.7, 8122.6, 8134.6, 8146.6, 8158.6, 8170.5, 8182.5, 8189.5]
j0243_best = [11.207, 11.202, 11.188, 11.162, 11.108, 11.062, 11.023, 11.000, 10.997, 11.000, 11.013, 11.031, 11.062,
              11.092, 11.131, 11.162, 11.185, 11.200, 11.209, 11.215, 11.227, 11.240, 11.254, 11.269, 11.288, 11.308, 11.324]
j0243_bg = [11.207, 11.207, 11.207, 11.207, 11.208, 11.208, 11.208, 11.208, 11.209, 11.209, 11.210, 11.211, 11.212,
            11.213, 11.215, 11.217, 11.218, 11.220, 11.222, 11.224, 11.229, 11.240, 11.254, 11.269, 11.288, 11.308, 11.324]
j0243_flare = [11.342, 11.339, 11.327, 11.295, 11.235, 11.200, 11.162, 11.142, 11.134, 11.135, 11.146, 11.165, 11.190,
               11.220, 11.252, 11.285, 11.310, 11.325, 11.332, 11.338, 11.342, 11.342, 11.342, 11.342, 11.342, 11.342, 11.342]
j0243_arrow = [8060.4, 10.965, 11.205]

# ============================ FIGURE ============================
W, H = 1379, 1515
FAM = "DejaVu Sans"
FS = 15.5
TXT = dict(family=FAM, size=FS, color="black")
SPINE = "#2b2b2b"
BLUE, RED, GREEN, PURPLE = "#0000ff", "#ff0000", "#008000", "#800080"

layout = dict(width=W, height=H, margin=dict(l=0, r=0, t=0, b=0, pad=0, autoexpand=False),
              paper_bgcolor="white", plot_bgcolor="white", font=TXT, showlegend=True, hovermode=False)
annotations, shapes, traces = [], [], []
cnt = {"ax": 0, "leg": 0}


def fx(p):
    return p / W


def fy(p):
    return 1 - p / H


def axes(x0, x1, top, bot, xr, yr, xt, yt, xlab=True):
    cnt["ax"] += 1
    s = "" if cnt["ax"] == 1 else str(cnt["ax"])
    base = dict(showline=True, linecolor=SPINE, linewidth=1.2, mirror=True, ticks="outside", ticklen=5.5,
                tickwidth=1.2, tickcolor=SPINE, showgrid=False, zeroline=False, tickfont=TXT, fixedrange=True,
                automargin=False)
    layout["xaxis" + s] = dict(base, domain=[fx(x0), fx(x1)], anchor="y" + s, range=xr, tick0=0, dtick=xt[0],
                               tickformat="d",
                               minor=dict(tick0=0, dtick=xt[1], ticks="outside", ticklen=3.2, tickwidth=1,
                                          tickcolor=SPINE, showgrid=False),
                               showticklabels=xlab)
    layout["yaxis" + s] = dict(base, domain=[fy(bot), fy(top)], anchor="x" + s, range=yr, tick0=0, dtick=yt[0],
                               tickformat=yt[2],
                               minor=dict(tick0=0, dtick=yt[1], ticks="outside", ticklen=3.2, tickwidth=1,
                                          tickcolor=SPINE, showgrid=False))
    return "x" + s, "y" + s


LEG_DY = -5


def legend(xp, yp, anchor="right"):
    cnt["leg"] += 1
    name = "legend" if cnt["leg"] == 1 else "legend%d" % cnt["leg"]
    layout[name] = dict(x=fx(xp), y=fy(yp + LEG_DY), xanchor=anchor, yanchor="top",
                        bgcolor="rgba(255,255,255,0.85)", bordercolor="#cccccc", borderwidth=1, font=TXT,
                        tracegroupgap=0, itemwidth=40)
    return name


def text(xp, yp, s, color="black", angle=0, anchor="center", size=FS):
    annotations.append(dict(x=fx(xp), y=fy(yp), xref="paper", yref="paper", text=s, showarrow=False,
                            textangle=angle, xanchor=anchor, yanchor="middle",
                            font=dict(family=FAM, size=size, color=color)))


ROW_OFF = [0, 510.5, 1021]

panels = [
    dict(title="LXP 8.04", row=0, cols=(84, 645),
         ov_xr=[5060, 9105], ov_xt=(500, 100), s1_yr=[14.455, 14.275], s1_yt=(0.1, 0.02, ".1f"),
         s2_yr=[-0.6, 12.4], s2_yt=(10, 2, ""),
         fit_xr=[6398, 6903], fit_xt=(100, 20), fit_yr=[14.455, 14.235], fit_yt=(0.05, 0.01, ".2f"),
         box=(6400, 6900, 14.444, 14.2),
         ogle=(lxp_ogle_x, lxp_ogle_y), xrt=(lxp_xrt_x, lxp_xrt_y), ul=(lxp_ul_x, lxp_ul_y),
         data=(lxp_data_x, lxp_data_y), curves=(lxp_curve_x, lxp_best, lxp_bg, lxp_flare), arrow=lxp_arrow,
         dmag="0.13", amp="0.12",
         lab=dict(title=(367, 12), s1=(22, 68), s2=(38, 162), s3=(12, 344), xl=(367, 481),
                  xleg=(638, 130, "right"), fleg=(638, 255), txt=(359, 290, 334))),
    dict(title="SMC X-2", row=0, cols=(763, 1353),
         ov_xr=[5185, 8915], ov_xt=(500, 100), s1_yr=[15.614, 14.486], s1_yt=(0.5, 0.1, ".1f"),
         s2_yr=[-0.35, 7.8], s2_yt=(5, 1, ""),
         fit_xr=[6998, 7598], fit_xt=(100, 20), fit_yr=[15.003, 14.477], fit_yt=(0.1, 0.02, ".1f"),
         box=(7000, 7600, 14.99, 14.3),
         ogle=(smc2_ogle_x, smc2_ogle_y), xrt=(smc2_xrt_x, smc2_xrt_y), ul=(smc2_ul_x, smc2_ul_y),
         data=(smc2_data_x, smc2_data_y), curves=(smc2_curve_x, smc2_best, smc2_bg, smc2_flare), arrow=smc2_arrow,
         dmag="0.18", amp="0.16",
         lab=dict(title=(1056, 12), s1=(700, 68), s2=(723, 162), s3=(700, 344), xl=(1056, 481),
                  xleg=(1344, 130, "right"), fleg=(1344, 255), txt=(998, 264, 284))),
    dict(title="SMC X-3", row=1, cols=(75, 665),
         ov_xr=[5190, 8885], ov_xt=(500, 100), s1_yr=[15.026, 14.387], s1_yt=(0.5, 0.1, ".1f"),
         s2_yr=[-2.7, 45.5], s2_yt=(25, 6.25, ""),
         fit_xr=[7349, 8052], fit_xt=(100, 20), fit_yr=[14.781, 14.364], fit_yt=(0.1, 0.02, ".1f"),
         box=(7350, 8060, 14.776, 14.2),
         ogle=(smc3_ogle_x, smc3_ogle_y), xrt=(smc3_xrt_x, smc3_xrt_y), ul=(smc3_ul_x, smc3_ul_y),
         data=(smc3_data_x, smc3_data_y), curves=(smc3_curve_x, smc3_best, smc3_bg, smc3_flare), arrow=smc3_arrow,
         dmag="0.32", amp="0.25",
         lab=dict(title=(372, 522.5), s1=(12, 579), s2=(30, 673), s3=(12, 855), xl=(371, 991.5),
                  xleg=(658, 641, "right"), fleg=(658, 766), txt=(300, 780, 804))),
    dict(title="SXP 4.78", row=1, cols=(770, 1337),
         ov_xr=[3630, 9060], ov_xt=(1000, 200), s1_yr=[15.678, 15.375], s1_yt=(0.2, 0.05, ".1f"),
         s2_yr=[-0.36, 6.3], s2_yt=(5, 1, ""),
         fit_xr=[8099, 8724], fit_xt=(100, 20), fit_yr=[15.636, 15.342], fit_yt=(0.05, 0.01, ".2f"),
         box=(8100, 8805, 15.623, 15.2),
         ogle=(sxp478_ogle_x, sxp478_ogle_y), xrt=(sxp478_xrt_x, sxp478_xrt_y), ul=(sxp478_ul_x, sxp478_ul_y),
         data=(sxp478_data_x, sxp478_data_y), curves=(sxp478_curve_x, sxp478_best, sxp478_bg, sxp478_flare),
         arrow=sxp478_arrow, dmag="0.13", amp="0.10",
         lab=dict(title=(1054, 522.5), s1=(709, 579), s2=(735, 673), s3=(698, 855), xl=(1054, 991.5),
                  xleg=(778, 641, "left"), fleg=(1328, 766), txt=(1031, 790, 823))),
    dict(title="SXP 5.05", row=2, cols=(81, 645),
         ov_xr=[5182, 8900], ov_xt=(500, 100), s1_yr=[16.042, 15.583], s1_yt=(0.25, 0.0625, ".2f"),
         s2_yr=[-0.17, 3.0], s2_yt=(2, 0.5, ""),
         fit_xr=[6200, 6900], fit_xt=(100, 20), fit_yr=[16.002, 15.558], fit_yt=(0.1, 0.02, ".1f"),
         box=(6200, 6910, 15.987, 15.4),
         ogle=(sxp505_ogle_x, sxp505_ogle_y), xrt=(sxp505_xrt_x, sxp505_xrt_y), ul=(sxp505_ul_x, sxp505_ul_y),
         data=(sxp505_data_x, sxp505_data_y), curves=(sxp505_curve_x, sxp505_best, sxp505_bg, sxp505_flare),
         arrow=sxp505_arrow, dmag="0.33", amp="0.28",
         lab=dict(title=(364, 1033), s1=(8, 1089), s2=(44, 1184), s3=(16, 1365), xl=(362, 1501.5),
                  xleg=(634, 1151, "right"), fleg=(634, 1276), txt=(337, 1289, 1310))),
    dict(title="J0243", row=2, cols=(764, 1349),
         ov_xr=[6885, 9794], ov_xt=(500, 100), s1_yr=[13.056, 12.319], s1_yt=(0.5, 0.1, ".1f"),
         s2_yr=[-212, 4270], s2_yt=(2500, 625, ""),
         fit_xr=[8035.5, 8195.5], fit_xt=(20, 5), fit_yr=[11.354, 10.898], fit_yt=(0.1, 0.02, ".1f"),
         box=(8000, 8200, 12.9, 12.2),
         ogle=None, xrt=(j0243_xrt_x, j0243_xrt_y), ul=None,
         data=(j0243_data_x, j0243_data_y), curves=(j0243_curve_x, j0243_best, j0243_bg, j0243_flare),
         arrow=j0243_arrow, dmag="0.26", amp="0.21",
         lab=dict(title=(1054, 1033), s1=(701, 1089), s2=(701, 1185), s3=(701, 1368), xl=(1056, 1501.5),
                  xleg=(1342, 1156, "right"), fleg=(1341, 1272), txt=(1105, 1286, 1307), oleg=(770, 1057))),
]

for p in panels:
    o = ROW_OFF[p["row"]]
    x0, x1 = p["cols"]
    L = p["lab"]
    xa1, ya1 = axes(x0, x1, 28.5 + o, 107.5 + o, p["ov_xr"], p["s1_yr"], p["ov_xt"], p["s1_yt"], xlab=False)
    xa2, ya2 = axes(x0, x1, 122 + o, 202 + o, p["ov_xr"], p["s2_yr"], p["ov_xt"], p["s2_yt"])
    xa3, ya3 = axes(x0, x1, 246.5 + o, 441.5 + o, p["fit_xr"], p["fit_yr"], p["fit_xt"], p["fit_yt"])

    # ---- top: optical overview ----
    if p["ogle"] is not None:
        ox = p["ogle"][0] + p["data"][0]
        oy = p["ogle"][1] + p["data"][1]
        traces.append(go.Scatter(x=ox, y=oy, xaxis=xa1, yaxis=ya1, mode="markers", showlegend=False,
                                 marker=dict(color="black", size=3.2, opacity=0.9, line=dict(width=0))))
        ytitle1 = "OGLE I mag"
    else:
        lg = legend(L["oleg"][0], L["oleg"][1], "left")
        traces.append(go.Scatter(x=j0243_asas_x, y=j0243_asas_y, xaxis=xa1, yaxis=ya1, mode="markers",
                                 name="ASAS-SN", legend=lg, legendrank=2,
                                 error_y=dict(type="constant", value=0.02, color="rgba(255,165,0,0.45)",
                                              thickness=1.5, width=0),
                                 marker=dict(color="rgba(255,165,0,0.5)", size=8, line=dict(width=0))))
        traces.append(go.Scatter(x=j0243_liu_x, y=j0243_liu_y, xaxis=xa1, yaxis=ya1, mode="markers",
                                 name="Liu et al.", legend=lg, legendrank=1,
                                 error_y=dict(type="constant", value=0.02, color="rgba(0,0,0,0.35)",
                                              thickness=1.5, width=0),
                                 marker=dict(color="rgba(0,0,0,0.4)", size=8, line=dict(width=0))))
        ytitle1 = "V mag"
    bx0, bx1, bbot, btop = p["box"]
    shapes.append(dict(type="rect", xref=xa1, yref=ya1, x0=bx0, x1=bx1, y0=bbot, y1=btop,
                       line=dict(color=RED, width=1.5), fillcolor="rgba(0,0,0,0)", layer="above"))

    # ---- middle: XRT ----
    xl = L["xleg"]
    lg2 = legend(xl[0], xl[1], xl[2])
    if p["ul"] is not None:
        traces.append(go.Scatter(x=p["ul"][0], y=p["ul"][1], xaxis=xa2, yaxis=ya2, mode="markers",
                                 name="XRT up-lim", legend=lg2,
                                 marker=dict(symbol="arrow-down", size=7, color="#c8c8c8",
                                             line=dict(width=0))))
    traces.append(go.Scatter(x=p["xrt"][0], y=p["xrt"][1], xaxis=xa2, yaxis=ya2, mode="markers",
                             name="XRT", legend=lg2,
                             marker=dict(symbol="line-ns-open", size=8, color="rgba(90,90,90,0.75)",
                                         line=dict(width=1.5, color="rgba(90,90,90,0.75)"))))
    traces.append(go.Scatter(x=p["xrt"][0], y=p["xrt"][1], xaxis=xa2, yaxis=ya2, mode="markers",
                             showlegend=False, marker=dict(size=2.5, color="black", line=dict(width=0))))

    # ---- bottom: flare fit ----
    lg3 = legend(L["fleg"][0], L["fleg"][1], "right")
    cx, cb, cg, cf = p["curves"]
    traces.append(go.Scatter(x=cx, y=cb, xaxis=xa3, yaxis=ya3, mode="lines", name="Best fit", legend=lg3,
                             line=dict(color=BLUE, width=2.4)))
    traces.append(go.Scatter(x=cx, y=cg, xaxis=xa3, yaxis=ya3, mode="lines", name="BG poly.", legend=lg3,
                             line=dict(color=RED, width=2.4, dash="8px,4px")))
    traces.append(go.Scatter(x=cx, y=cf, xaxis=xa3, yaxis=ya3, mode="lines", name="Flare", legend=lg3,
                             line=dict(color=GREEN, width=2.2, dash="12px,4px,3px,4px")))
    if p["ogle"] is None:
        err = dict(type="constant", value=0.013, color="black", thickness=2, width=0)
        dname = "Liu et al."
    else:
        err = dict(type="constant", value=0.0025, color="black", thickness=1.5, width=0)
        dname = "Data"
    traces.append(go.Scatter(x=p["data"][0], y=p["data"][1], xaxis=xa3, yaxis=ya3, mode="markers",
                             name=dname, legend=lg3, error_y=err,
                             marker=dict(color="black", size=8.5, line=dict(width=0))))

    # flare arrow (dotted, double-headed)
    axx, atop, abot = p["arrow"]
    shapes.append(dict(type="line", xref=xa3, yref=ya3, x0=axx, x1=axx, y0=atop, y1=abot,
                       line=dict(color=PURPLE, width=1.3, dash="dot"), layer="above"))
    for yy, off in ((atop, 9), (abot, -9)):
        annotations.append(dict(x=axx, y=yy, xref=xa3, yref=ya3, ax=0, ay=off, text="", showarrow=True,
                                arrowhead=4, arrowsize=1.4, arrowwidth=1.1, arrowcolor=PURPLE))

    tx, ty1, ty2 = L["txt"]
    text(tx, ty1, "Flare \u0394mag: " + p["dmag"], color=PURPLE, anchor="right")
    text(tx, ty2, "Fit Amplitude: " + p["amp"], color=GREEN, anchor="right")

    # titles / labels
    text(L["title"][0], L["title"][1], p["title"], size=18.5)
    text(L["s1"][0], L["s1"][1], ytitle1, angle=-90)
    text(L["s2"][0], L["s2"][1], "XRT (c/s)", angle=-90)
    text(L["s3"][0], L["s3"][1], "I mag" if p["ogle"] is None else "OGLE I mag", angle=-90)
    text(L["xl"][0], L["xl"][1], "MJD -50000")

layout["annotations"] = annotations
layout["shapes"] = shapes
fig = go.Figure(data=traces, layout=layout)
fig.write_html("out.html")
